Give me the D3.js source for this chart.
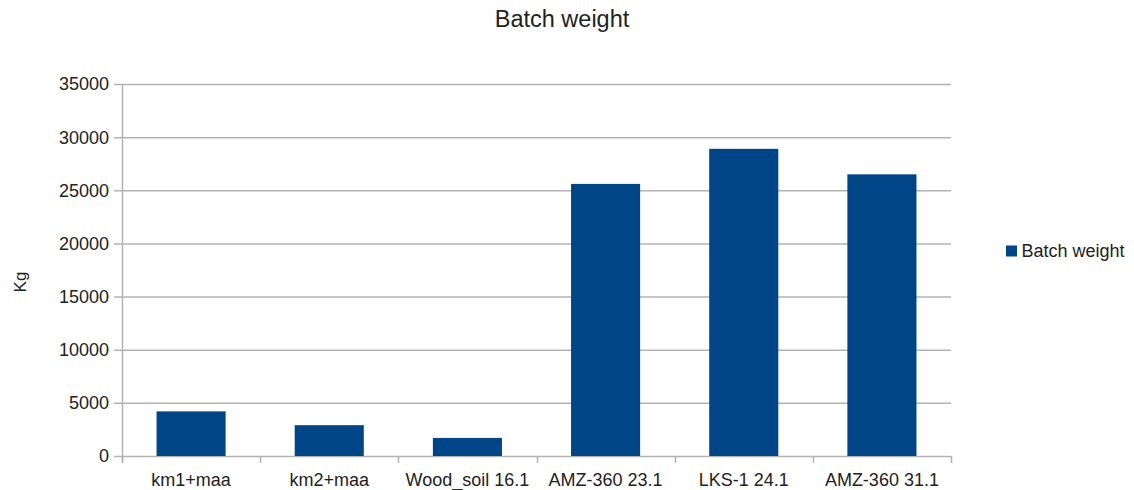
<!DOCTYPE html>
<html>
<head>
<meta charset="utf-8">
<script src="https://cdn.jsdelivr.net/npm/d3@7"></script>
<style>
  html, body { margin: 0; padding: 0; background: #fff; }
  svg { display: block; font-family: "Liberation Sans", Arial, sans-serif; }
</style>
</head>
<body>
<svg id="chart" width="1134" height="490"></svg>
<script>
// Batch weights per batch (kg)
const categories = ["km1+maa", "km2+maa", "Wood_soil 16.1", "AMZ-360 23.1", "LKS-1 24.1", "AMZ-360 31.1"];
const batchWeight = [4200, 2900, 1700, 25600, 28900, 26500];
const yTicks = [0, 5000, 10000, 15000, 20000, 25000, 30000, 35000];
const seriesName = "Batch weight";
const chartTitle = "Batch weight";
const yLabel = "Kg";

const barColor = "#004586";
const gridColor = "#b3b3b3";
const textColor = "#222";

const svg = d3.select("#chart");
const plot = { left: 122, right: 951, top: 84, bottom: 456 };

const x = d3.scaleBand()
  .domain(categories)
  .range([plot.left, plot.right])
  .paddingInner(0.5)
  .paddingOuter(0.25);

const y = d3.scaleLinear()
  .domain([0, 35000])
  .range([plot.bottom, plot.top]);

// horizontal gridlines
svg.append("g")
  .selectAll("line")
  .data(yTicks)
  .join("line")
  .attr("x1", plot.left - 8)
  .attr("x2", plot.right)
  .attr("y1", d => y(d) + 0.5)
  .attr("y2", d => y(d) + 0.5)
  .attr("stroke", gridColor)
  .attr("stroke-width", 1.5);

// y axis line
svg.append("line")
  .attr("x1", plot.left + 0.5).attr("x2", plot.left + 0.5)
  .attr("y1", plot.top).attr("y2", plot.bottom + 6)
  .attr("stroke", gridColor).attr("stroke-width", 1.5);

// category boundary ticks below the axis
const step = x.step();
const boundaries = d3.range(categories.length + 1).map(i => plot.left + i * step);
svg.append("g")
  .selectAll("line")
  .data(boundaries)
  .join("line")
  .attr("x1", d => Math.round(d) + 0.5)
  .attr("x2", d => Math.round(d) + 0.5)
  .attr("y1", plot.bottom)
  .attr("y2", plot.bottom + 7)
  .attr("stroke", gridColor)
  .attr("stroke-width", 1.5);

// bars
svg.append("g")
  .selectAll("rect")
  .data(categories.map((c, i) => ({ c, v: batchWeight[i] })))
  .join("rect")
  .attr("x", d => x(d.c))
  .attr("width", x.bandwidth())
  .attr("y", d => y(d.v))
  .attr("height", d => y(0) - y(d.v))
  .attr("fill", barColor);

// y tick labels
svg.append("g")
  .selectAll("text")
  .data(yTicks)
  .join("text")
  .attr("x", 109)
  .attr("y", d => y(d))
  .attr("dy", "0.36em")
  .attr("text-anchor", "end")
  .attr("font-size", 18)
  .attr("fill", textColor)
  .text(d => d);

// x category labels
svg.append("g")
  .selectAll("text")
  .data(categories)
  .join("text")
  .attr("x", d => x(d) + x.bandwidth() / 2)
  .attr("y", 486)
  .attr("text-anchor", "middle")
  .attr("font-size", 18)
  .attr("fill", textColor)
  .text(d => d);

// title
svg.append("text")
  .attr("x", 562)
  .attr("y", 26.5)
  .attr("text-anchor", "middle")
  .attr("font-size", 23.5)
  .attr("fill", textColor)
  .text(chartTitle);

// y axis title
svg.append("text")
  .attr("transform", "translate(26,282) rotate(-90)")
  .attr("text-anchor", "middle")
  .attr("font-size", 17)
  .attr("fill", textColor)
  .text(yLabel);

// legend
const legend = svg.append("g");
legend.append("rect")
  .attr("x", 1006).attr("y", 245.5)
  .attr("width", 11).attr("height", 11)
  .attr("fill", barColor);
legend.append("text")
  .attr("x", 1021.5).attr("y", 256.5)
  .attr("font-size", 18)
  .attr("fill", textColor)
  .text(seriesName);
</script>
</body>
</html>
